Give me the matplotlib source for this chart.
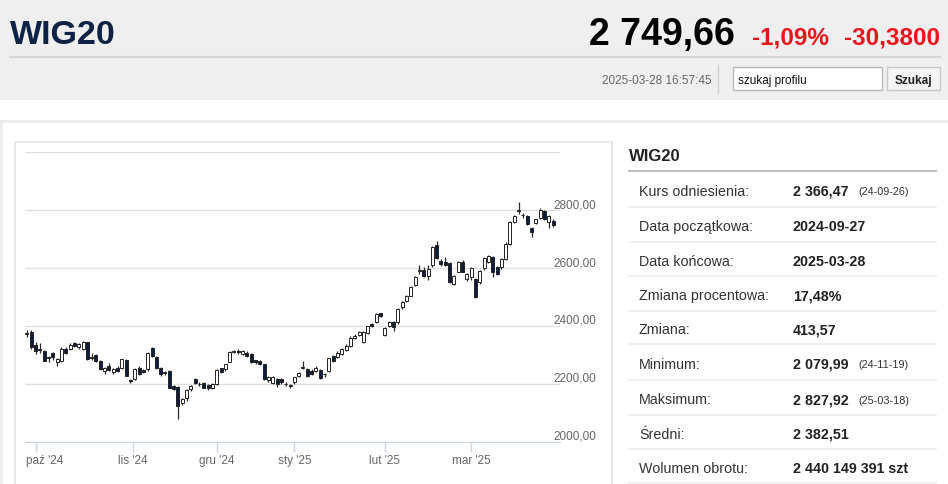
import matplotlib
matplotlib.use("Agg")
import matplotlib.pyplot as plt
from matplotlib.patches import Rectangle
from matplotlib.transforms import ScaledTranslation

plt.rcParams['font.family'] = ['Liberation Sans', 'DejaVu Sans']

# daily candles WIG20, 2024-09-27 .. 2025-03-28
opens = [2372, 2378, 2334, 2320, 2314, 2290, 2306, 2274, 2280, 2322,
         2320, 2341, 2326, 2320, 2343, 2292, 2298, 2280, 2245, 2262,
         2240, 2256, 2256, 2283, 2212, 2216, 2256, 2248, 2250, 2323,
         2291, 2253, 2236, 2245, 2193, 2190, 2135, 2152, 2181, 2218,
         2200, 2204, 2195, 2184, 2199, 2253, 2250, 2276, 2310, 2312,
         2303, 2308, 2302, 2282, 2279, 2268, 2214, 2202, 2216, 2216,
         2199, 2196, 2205, 2228, 2256, 2251, 2245, 2245, 2249, 2234,
         2245, 2297, 2291, 2303, 2318, 2332, 2357, 2368, 2343, 2376,
         2407, 2413, 2445, 2369, 2401, 2412, 2412, 2464, 2487, 2505,
         2540, 2591, 2595, 2574, 2609, 2680, 2626, 2620, 2617, 2545,
         2588, 2620, 2563, 2568, 2563, 2551, 2600, 2620, 2638, 2603,
         2603, 2632, 2684, 2759, 2796, 2783, 2780, 2738, 2757, 2773,
         2796, 2759, 2764]
highs = [2386, 2385, 2343, 2340, 2318, 2296, 2310, 2289, 2326, 2328,
         2340, 2345, 2342, 2348, 2346, 2306, 2302, 2284, 2258, 2272,
         2254, 2262, 2286, 2286, 2215, 2254, 2260, 2250, 2310, 2328,
         2295, 2258, 2246, 2248, 2196, 2192, 2152, 2182, 2195, 2220,
         2208, 2207, 2198, 2202, 2250, 2256, 2270, 2313, 2318, 2320,
         2317, 2312, 2305, 2284, 2281, 2270, 2228, 2226, 2220, 2220,
         2206, 2200, 2225, 2240, 2280, 2256, 2250, 2263, 2252, 2238,
         2290, 2300, 2312, 2324, 2336, 2364, 2372, 2382, 2383, 2401,
         2410, 2443, 2446, 2398, 2418, 2416, 2462, 2487, 2508, 2537,
         2571, 2609, 2605, 2610, 2675, 2694, 2630, 2637, 2620, 2575,
         2623, 2627, 2583, 2604, 2565, 2593, 2638, 2646, 2641, 2606,
         2634, 2690, 2764, 2783, 2828, 2791, 2784, 2742, 2770, 2806,
         2800, 2785, 2770]
lows = [2361, 2322, 2303, 2306, 2278, 2274, 2284, 2262, 2276, 2302,
        2316, 2326, 2322, 2318, 2283, 2284, 2276, 2247, 2233, 2244,
        2233, 2240, 2252, 2226, 2203, 2212, 2230, 2236, 2246, 2292,
        2252, 2228, 2230, 2184, 2178, 2080, 2128, 2140, 2176, 2198,
        2192, 2184, 2180, 2182, 2196, 2238, 2246, 2274, 2305, 2304,
        2300, 2294, 2272, 2270, 2265, 2213, 2207, 2198, 2190, 2201,
        2194, 2186, 2200, 2224, 2250, 2224, 2230, 2240, 2215, 2225,
        2242, 2276, 2288, 2300, 2314, 2328, 2354, 2365, 2340, 2372,
        2396, 2410, 2431, 2364, 2398, 2383, 2408, 2460, 2484, 2502,
        2537, 2580, 2568, 2560, 2603, 2630, 2608, 2607, 2550, 2540,
        2585, 2585, 2556, 2560, 2496, 2545, 2595, 2617, 2570, 2575,
        2598, 2628, 2680, 2755, 2788, 2774, 2748, 2708, 2752, 2770,
        2767, 2740, 2742]
closes = [2375, 2326, 2314, 2318, 2280, 2292, 2291, 2285, 2320, 2306,
          2334, 2329, 2337, 2343, 2285, 2290, 2280, 2250, 2256, 2248,
          2250, 2245, 2285, 2228, 2210, 2252, 2234, 2240, 2308, 2297,
          2256, 2233, 2242, 2187, 2182, 2124, 2147, 2178, 2193, 2202,
          2198, 2187, 2184, 2199, 2248, 2242, 2268, 2311, 2312, 2311,
          2314, 2297, 2274, 2274, 2268, 2216, 2225, 2222, 2199, 2205,
          2200, 2194, 2222, 2237, 2259, 2228, 2234, 2256, 2220, 2233,
          2288, 2280, 2308, 2320, 2332, 2360, 2366, 2378, 2378, 2399,
          2399, 2441, 2433, 2392, 2415, 2395, 2459, 2484, 2505, 2534,
          2568, 2594, 2574, 2597, 2672, 2634, 2615, 2611, 2553, 2572,
          2620, 2588, 2580, 2599, 2499, 2591, 2635, 2640, 2588, 2580,
          2630, 2684, 2759, 2779, 2801, 2784, 2753, 2724, 2768, 2800,
          2770, 2780, 2750]

month_pos = [2, 24.5, 44, 62, 83, 103]
month_labels = ["paź '24", "lis '24", "gru '24", "sty '25", "lut '25", "mar '25"]
y_ticks = [2000, 2200, 2400, 2600, 2800, 3000]
y_labels = ['2000,00', '2200,00', '2400,00', '2600,00', '2800,00', '']

row_labels = ['Kurs odniesienia:', 'Data początkowa:', 'Data końcowa:',
              'Zmiana procentowa:', 'Zmiana:', 'Minimum:', 'Maksimum:',
              'Średni:', 'Wolumen obrotu:']
row_values = ['2 366,47', '2024-09-27', '2025-03-28', '17,48%', '413,57',
              '2 079,99', '2 827,92', '2 382,51', '2 440 149 391 szt']
row_dates = ['(24-09-26)', '', '', '', '', '(24-11-19)', '(25-03-18)', '', '']

W, H = 948, 485
fig = plt.figure(figsize=(W / 100, H / 100), dpi=100)
fig.patch.set_facecolor('white')

# page background drawn in pixel coordinates
bg = fig.add_axes([0, 0, 1, 1])
bg.set_xlim(0, W)
bg.set_ylim(H, 0)
bg.axis('off')

bg.add_patch(Rectangle((0, 0), W, 101, color='#efefef', lw=0))
bg.plot([10, 940], [58, 58], color='#d6d6d6', lw=1.5)
bg.text(10, 44, 'WIG20', fontsize=24.5, fontweight='bold', color='#0d2244', va='baseline')
bg.text(735, 45, '2 749,66', fontsize=27, fontweight='bold', color='#000000',
        va='baseline', ha='right')
bg.text(829, 44, '-1,09%', fontsize=17.5, fontweight='bold', color='#e8141e',
        va='baseline', ha='right')
bg.text(940, 44, '-30,3800', fontsize=17.5, fontweight='bold', color='#e8141e',
        va='baseline', ha='right')
bg.text(712, 84, '2025-03-28 16:57:45', fontsize=8.5, color='#666666',
        va='baseline', ha='right')
bg.plot([718, 718], [66, 94], color='#d0d0d0', lw=1)
bg.add_patch(Rectangle((733, 68), 149, 23, fc='white', ec='#b8b8b8', lw=1))
bg.text(738, 84, 'szukaj profilu', fontsize=8.5, color='#111111', va='baseline')
bg.add_patch(Rectangle((887, 68), 53, 23, fc='#f4f4f4', ec='#c8c8c8', lw=1))
bg.text(913.5, 84, 'Szukaj', fontsize=8.5, fontweight='bold', color='#222222',
        va='baseline', ha='center')

# content panel
bg.add_patch(Rectangle((0, 121), W, 3, color='#ececec', lw=0))
bg.add_patch(Rectangle((0, 121), 3, H - 121, color='#ececec', lw=0))
bg.add_patch(Rectangle((15, 143), 597, 350, fill=False, ec='#e8e8e8', lw=1.5))

# info table
bg.text(629, 161.5, 'WIG20', fontsize=12, fontweight='bold', color='#222222', va='baseline')
bg.plot([629, 936], [172, 172], color='#bdbdbd', lw=1.5)
row_edges = [172, 208, 243, 277, 312, 345, 381, 416, 450, 484]
for k in range(len(row_labels)):
    top, bottom = row_edges[k], row_edges[k + 1]
    base = (top + bottom) / 2 + 6
    bg.text(639, base, row_labels[k], fontsize=10.3, color='#333333', va='baseline')
    bg.text(793, base, row_values[k], fontsize=10.3, fontweight='bold',
            color='#222222', va='baseline')
    if row_dates[k]:
        bg.text(858, base - 0.5, row_dates[k], fontsize=7.8, color='#333333', va='baseline')
    bg.plot([629, 936], [bottom, bottom], color='#ececec', lw=1.2)

# candlestick chart
ax = fig.add_axes([25 / W, (H - 442.7) / H, 535 / W, 289.4 / H])
ax.patch.set_alpha(0)
x = list(range(len(opens)))
ax.vlines(x, lows, highs, color='#2a2a2a', lw=0.9, zorder=2)
bottoms = [min(o, c) for o, c in zip(opens, closes)]
heights = [max(abs(c - o), 1.5) for o, c in zip(opens, closes)]
colors = ['#0c1e3c' if c < o else 'white' for o, c in zip(opens, closes)]
ax.bar(x, heights, bottom=bottoms, width=0.7, color=colors,
       edgecolor='#222222', lw=0.7, zorder=3)

ax.set_xlim(-0.46, 123.6)
ax.set_ylim(2000, 3000)
for s in ['top', 'left', 'right']:
    ax.spines[s].set_visible(False)
ax.spines['bottom'].set_color('#ccd6eb')
ax.set_axisbelow(True)
ax.yaxis.grid(True, color='#e0e0e0', lw=1)

ax.yaxis.tick_right()
ax.set_yticks(y_ticks)
ax.set_yticklabels(y_labels)
ax.tick_params(axis='y', length=0, pad=-5, labelsize=8.5, labelcolor='#666666')
for lbl in ax.get_yticklabels():
    lbl.set_va('bottom')

ax.set_xticks(month_pos)
ax.set_xticklabels(month_labels)
ax.tick_params(axis='x', length=7, width=1, color='#ccd6eb', labelsize=8.5,
               labelcolor='#666666', pad=2)
first = ax.get_xticklabels()[0]
first.set_ha('left')
first.set_transform(first.get_transform() + ScaledTranslation(-0.10, 0, fig.dpi_scale_trans))

fig.savefig('out.png', dpi=100)
